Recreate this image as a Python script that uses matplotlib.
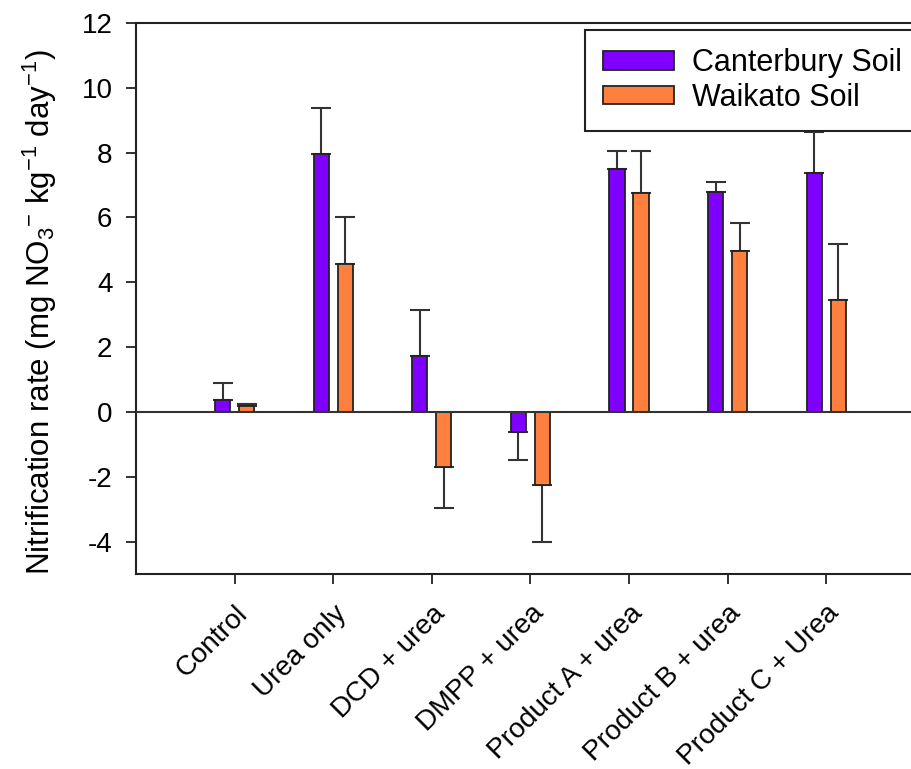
import matplotlib
matplotlib.use("Agg")
import matplotlib.pyplot as plt
import numpy as np

plt.rcParams["font.family"] = ["Liberation Sans", "DejaVu Sans"]
plt.rcParams["mathtext.fontset"] = "custom"
plt.rcParams["mathtext.rm"] = "Liberation Sans"
plt.rcParams["axes.unicode_minus"] = False

treatments = ["Control", "Urea only", "DCD + urea", "DMPP + urea",
              "Product A + urea", "Product B + urea", "Product C + Urea"]
canterbury = [0.37, 7.96, 1.73, -0.62, 7.50, 6.79, 7.38]
canterbury_se = [0.53, 1.42, 1.42, 0.86, 0.56, 0.31, 1.26]
waikato = [0.19, 4.57, -1.70, -2.25, 6.76, 4.97, 3.46]
waikato_se = [0.04, 1.45, 1.26, 1.75, 1.30, 0.86, 1.72]

C_PURPLE = "#7F00FF"
C_ORANGE = "#FF7F3F"
INK = "#222222"

fig = plt.figure(figsize=(9.12, 7.69), dpi=100)
ax = fig.add_axes([136 / 912, 1 - 574 / 769, 1 - 136 / 912, 551 / 769])

x = np.arange(len(treatments))
width = 0.155
off = 0.122


def one_sided(vals, errs):
    # error bar only on the side the bar points to
    lo = [e if v < 0 else 0 for v, e in zip(vals, errs)]
    hi = [e if v >= 0 else 0 for v, e in zip(vals, errs)]
    return [lo, hi]


for dx, vals, errs, col, lab in [(-off, canterbury, canterbury_se, C_PURPLE, "Canterbury Soil"),
                                 (off, waikato, waikato_se, C_ORANGE, "Waikato Soil")]:
    ax.bar(x + dx, vals, width, color=col, edgecolor=INK, linewidth=1.3,
           label=lab, zorder=2)
    ax.errorbar(x + dx, vals, yerr=one_sided(vals, errs), fmt="none",
                ecolor="#333333", elinewidth=1.5, capsize=7.5, capthick=1.5,
                zorder=1)

ax.axhline(0, color="#333333", linewidth=1.5, zorder=3)

ax.set_xlim(-1.0, 6.87)
ax.set_ylim(-5, 12)
ax.set_yticks(range(-4, 13, 2))
ax.set_xticks(x)
ax.set_xticklabels(treatments, rotation=45, ha="right", va="top",
                   rotation_mode="anchor", fontsize=20)
ax.tick_params(axis="y", labelsize=20, length=7, width=1.3, color=INK, pad=10)
ax.tick_params(axis="x", length=7, width=1.3, color=INK, pad=12)
for s in ["left", "bottom", "top"]:
    ax.spines[s].set_linewidth(1.5)
    ax.spines[s].set_color(INK)
ax.spines["right"].set_visible(False)

ax.set_ylabel(r"Nitrification rate (mg NO$_3$$^{-}$ kg$^{-1}$ day$^{-1}$)",
              fontsize=22.5)
ax.yaxis.label.set_va("center")
ax.yaxis.set_label_coords(-0.124, 0.475)

leg = ax.legend(loc="upper left", bbox_to_anchor=(0.5786, 0.987),
                fontsize=22, frameon=True, fancybox=False, framealpha=1,
                edgecolor=INK, handlelength=2.3, handleheight=0.55,
                labelspacing=0.15, borderpad=0.6, handletextpad=0.6,
                borderaxespad=0)
leg.get_frame().set_linewidth(1.5)
leg.set_zorder(5)

fig.savefig("out.png", dpi=100)
